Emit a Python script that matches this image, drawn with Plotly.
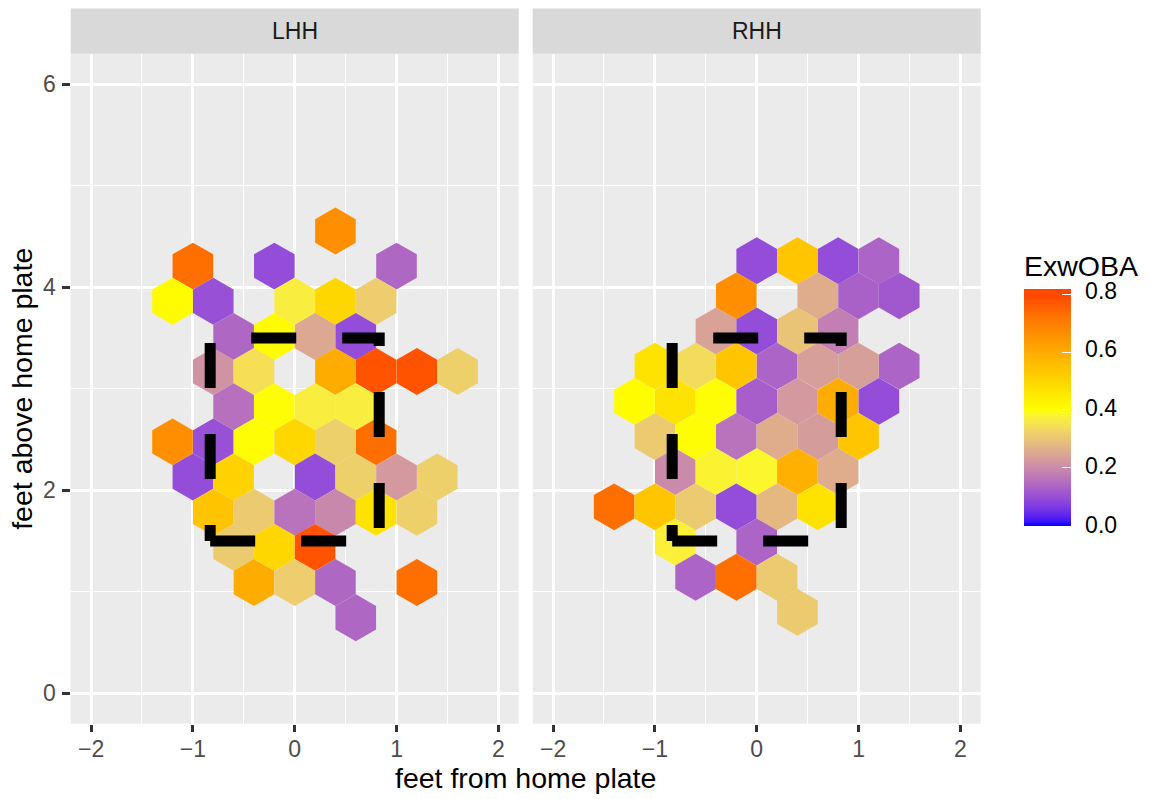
import plotly.graph_objects as go

# ---------------- data ----------------
# LHH panel: hex-bin centres and ExwOBA value
lhh_x = [0.4,
         -1.0, -0.2, 1.0,
         -1.2, -0.8, 0.0, 0.4, 0.8,
         -0.6, -0.2, 0.2, 0.6,
         -0.8, -0.4, 0.4, 0.8, 1.2, 1.6,
         -0.6, -0.2, 0.2, 0.6,
         -1.2, -0.8, -0.4, 0.0, 0.4, 0.8,
         -1.0, -0.6, 0.2, 0.6, 1.0, 1.4,
         -0.8, -0.4, 0.0, 0.4, 0.8, 1.2,
         -0.6, -0.2, 0.2,
         -0.4, 0.0, 0.4, 1.2,
         0.6]
lhh_y = [4.555,
         4.209, 4.209, 4.209,
         3.863, 3.863, 3.863, 3.863, 3.863,
         3.516, 3.516, 3.516, 3.516,
         3.170, 3.170, 3.170, 3.170, 3.170, 3.170,
         2.823, 2.823, 2.823, 2.823,
         2.477, 2.477, 2.477, 2.477, 2.477, 2.477,
         2.131, 2.131, 2.131, 2.131, 2.131, 2.131,
         1.784, 1.784, 1.784, 1.784, 1.784, 1.784,
         1.438, 1.438, 1.438,
         1.091, 1.091, 1.091, 1.091,
         0.745]
lhh_val = [0.665,
           0.73, 0.095, 0.14,
           0.41, 0.10, 0.37, 0.50, 0.315,
           0.14, 0.41, 0.25, 0.095,
           0.215, 0.345, 0.60, 0.78, 0.78, 0.32,
           0.155, 0.40, 0.37, 0.37,
           0.665, 0.10, 0.40, 0.50, 0.32, 0.73,
           0.095, 0.51, 0.095, 0.32, 0.225, 0.32,
           0.545, 0.31, 0.16, 0.195, 0.47, 0.32,
           0.31, 0.50, 0.78,
           0.60, 0.315, 0.14, 0.73,
           0.14]

# RHH panel
rhh_x = [0.0, 0.4, 0.8, 1.2,
         -0.2, 0.6, 1.0, 1.4,
         -0.4, 0.0, 0.4, 0.8,
         -1.0, -0.6, -0.2, 0.2, 0.6, 1.0, 1.4,
         -1.2, -0.8, -0.4, 0.0, 0.4, 0.8, 1.2,
         -1.0, -0.6, -0.2, 0.2, 0.6, 1.0,
         -0.8, -0.4, 0.0, 0.4, 0.8,
         -1.4, -1.0, -0.6, -0.2, 0.2, 0.6,
         -0.8, 0.0,
         -0.6, -0.2, 0.2,
         0.4]
rhh_y = [4.262, 4.262, 4.262, 4.262,
         3.916, 3.916, 3.916, 3.916,
         3.569, 3.569, 3.569, 3.569,
         3.223, 3.223, 3.223, 3.223, 3.223, 3.223, 3.223,
         2.876, 2.876, 2.876, 2.876, 2.876, 2.876, 2.876,
         2.530, 2.530, 2.530, 2.530, 2.530, 2.530,
         2.184, 2.184, 2.184, 2.184, 2.184,
         1.837, 1.837, 1.837, 1.837, 1.837, 1.837,
         1.491, 1.491,
         1.144, 1.144, 1.144,
         0.798]
rhh_val = [0.095, 0.54, 0.095, 0.135,
           0.665, 0.26, 0.13, 0.115,
           0.24, 0.095, 0.30, 0.18,
           0.47, 0.34, 0.54, 0.135, 0.235, 0.235, 0.135,
           0.405, 0.47, 0.40, 0.125, 0.225, 0.60, 0.095,
           0.31, 0.40, 0.16, 0.26, 0.23, 0.54,
           0.20, 0.38, 0.385, 0.59, 0.26,
           0.73, 0.54, 0.31, 0.095, 0.28, 0.47,
           0.375, 0.135,
           0.135, 0.73, 0.31,
           0.31]

# strike zone outline
zone_x = [-0.83, 0.83, 0.83, -0.83, -0.83]
zone_y = [1.5, 1.5, 3.5, 3.5, 1.5]

panel_labels = ["LHH", "RHH"]
x_ticks = [-2, -1, 0, 1, 2]
y_ticks = [0, 2, 4, 6]
cbar_ticks = [0.0, 0.2, 0.4, 0.6, 0.8]
cbar_labels = ["0.0", "0.2", "0.4", "0.6", "0.8"]
c_min, c_mid, c_max = -0.002, 0.4, 0.807   # colour-bar limits and mid (yellow) point


# ---------------- colour scale: Lab interpolation blue-yellow-orangered ----------------
def _hex_to_rgb(h):
    h = h.lstrip("#")
    return [int(h[i:i + 2], 16) / 255 for i in (0, 2, 4)]


def _to_lin(c):
    return c / 12.92 if c <= 0.04045 else ((c + 0.055) / 1.055) ** 2.4


def _from_lin(c):
    c = max(0.0, min(1.0, c))
    return 12.92 * c if c <= 0.0031308 else 1.055 * c ** (1 / 2.4) - 0.055


WHITE = (0.95047, 1.0, 1.08883)


def _rgb_to_lab(rgb):
    r, g, b = [_to_lin(c) for c in rgb]
    X = 0.4124 * r + 0.3576 * g + 0.1805 * b
    Y = 0.2126 * r + 0.7152 * g + 0.0722 * b
    Z = 0.0193 * r + 0.1192 * g + 0.9505 * b

    def f(t):
        return t ** (1 / 3) if t > 0.008856 else 7.787 * t + 16 / 116
    fx, fy, fz = f(X / WHITE[0]), f(Y / WHITE[1]), f(Z / WHITE[2])
    return (116 * fy - 16, 500 * (fx - fy), 200 * (fy - fz))


def _lab_to_rgb(lab):
    L, a, b = lab
    fy = (L + 16) / 116
    fx = fy + a / 500
    fz = fy - b / 200

    def finv(t):
        return t ** 3 if t ** 3 > 0.008856 else (t - 16 / 116) / 7.787
    X, Y, Z = WHITE[0] * finv(fx), WHITE[1] * finv(fy), WHITE[2] * finv(fz)
    r = 3.2406 * X - 1.5372 * Y - 0.4986 * Z
    g = -0.9689 * X + 1.8758 * Y + 0.0415 * Z
    bb = 0.0557 * X - 0.2040 * Y + 1.0570 * Z
    return "rgb(%d,%d,%d)" % tuple(round(_from_lin(c) * 255) for c in (r, g, bb))


anchors = [_rgb_to_lab(_hex_to_rgb(h)) for h in ("#0000FF", "#FFFF00", "#FF4500")]
colorscale = []
N = 48
for i in range(N + 1):
    t = i / N
    v = c_min + t * (c_max - c_min)
    if v <= c_mid:
        a, b, u = anchors[0], anchors[1], max(0.0, v) / c_mid
    else:
        a, b, u = anchors[1], anchors[2], min(1.0, (v - c_mid) / (0.8 - c_mid))
    lab = tuple(a[k] + (b[k] - a[k]) * u for k in range(3))
    colorscale.append([t, _lab_to_rgb(lab)])

# ---------------- figure ----------------
W, H = 1151, 799
FONT = "Liberation Sans, Arial, Helvetica, sans-serif"
HEX_SIZE = 46.9

fig = go.Figure()

for xs, ys, vs, xa, ya, cax in ((lhh_x, lhh_y, lhh_val, "x", "y", "coloraxis"),
                                (rhh_x, rhh_y, rhh_val, "x2", "y2", "coloraxis2")):
    fig.add_trace(go.Scatter(
        x=xs, y=ys, mode="markers", xaxis=xa, yaxis=ya,
        marker=dict(symbol="hexagon", size=HEX_SIZE, color=vs,
                    coloraxis=cax, line=dict(width=0)),
        hoverinfo="skip", showlegend=False))
    fig.add_trace(go.Scatter(
        x=zone_x, y=zone_y, mode="lines", xaxis=xa, yaxis=ya,
        line=dict(color="black", width=11, dash="45px,46px"),
        hoverinfo="skip", showlegend=False))

px_x = lambda p: p / W
px_y = lambda p: (H - p) / H

x_dom1 = [px_x(70.7), px_x(518.7)]
x_dom2 = [px_x(532.7), px_x(980.7)]
y_dom = [px_y(723.75), px_y(53.85)]

tickfont = dict(family=FONT, size=23, color="#4D4D4D")
common_x = dict(range=[-2.2, 2.2], tickvals=x_ticks, showgrid=True, gridcolor="white",
                gridwidth=2.8, zeroline=False, ticks="outside", ticklen=7.3, tickwidth=2.8,
                tickcolor="#333333", tickfont=tickfont, showline=False, fixedrange=True,
                minor=dict(dtick=0.5, tick0=0, showgrid=True, gridcolor="white", gridwidth=1.4),
                ticklabelstandoff=-3)
common_y = dict(range=[-0.3, 6.3], showgrid=True, gridcolor="white", gridwidth=2.8,
                zeroline=False, showline=False, fixedrange=True,
                minor=dict(dtick=1, tick0=0, showgrid=True, gridcolor="white", gridwidth=1.4))

bar_top, bar_bot, title_h = 292.7, 525.3, 41.0
cb_x = px_x(1024)

fig.update_layout(
    width=W, height=H, autosize=False,
    margin=dict(l=0, r=0, t=0, b=0, pad=0),
    paper_bgcolor="white", plot_bgcolor="#EBEBEB",
    font=dict(family=FONT, color="black"),
    xaxis=dict(domain=x_dom1, anchor="y", **common_x),
    xaxis2=dict(domain=x_dom2, anchor="y2", **common_x),
    yaxis=dict(domain=y_dom, anchor="x", tickvals=y_ticks, ticks="outside", ticklen=7.3,
               tickwidth=2.8, tickcolor="#333333", tickfont=tickfont, ticklabelstandoff=2,
               **common_y),
    yaxis2=dict(domain=y_dom, anchor="x2", matches="y", tickvals=y_ticks, ticks="",
                showticklabels=False, **common_y),
    # colour bar with title and labels
    coloraxis=dict(
        colorscale=colorscale, cmin=c_min, cmax=c_max,
        colorbar=dict(
            title=dict(text="ExwOBA", side="top", font=dict(family=FONT, size=28.5, color="black")),
            tickvals=cbar_ticks, ticktext=cbar_labels,
            ticks="outside", ticklen=10, tickwidth=1, tickcolor="rgba(0,0,0,0)",
            tickfont=dict(family=FONT, size=23, color="black"),
            thickness=47, thicknessmode="pixels",
            len=bar_bot - bar_top + title_h, lenmode="pixels",
            x=cb_x, xanchor="left", xpad=0,
            y=px_y((bar_top - title_h + bar_bot) / 2), yanchor="middle", ypad=0,
            outlinewidth=0, borderwidth=0)),
    # identical bar drawn on top, carrying the white inside ticks
    coloraxis2=dict(
        colorscale=colorscale, cmin=c_min, cmax=c_max,
        colorbar=dict(
            tickvals=cbar_ticks, showticklabels=False,
            ticks="inside", ticklen=9, tickwidth=1.4, tickcolor="white",
            thickness=47, thicknessmode="pixels",
            len=bar_bot - bar_top, lenmode="pixels",
            x=cb_x, xanchor="left", xpad=0,
            y=px_y((bar_top + bar_bot) / 2), yanchor="middle", ypad=0,
            outlinewidth=0, borderwidth=0)),
    showlegend=False,
)

# facet strips
shapes = []
annotations = []
strip_top, strip_bot = px_y(8.5), px_y(53.85)
for dom, lab in zip((x_dom1, x_dom2), panel_labels):
    shapes.append(dict(type="rect", xref="paper", yref="paper", x0=dom[0], x1=dom[1],
                       y0=strip_bot, y1=strip_top, fillcolor="#D9D9D9", line=dict(width=0),
                       layer="below"))
    annotations.append(dict(xref="paper", yref="paper", x=(dom[0] + dom[1]) / 2,
                            y=(strip_top + strip_bot) / 2, text=lab, showarrow=False,
                            xanchor="center", yanchor="middle",
                            font=dict(family=FONT, size=23, color="#1A1A1A")))

annotations.append(dict(xref="paper", yref="paper", x=(x_dom1[0] + x_dom2[1]) / 2, y=px_y(778),
                        text="feet from home plate", showarrow=False, xanchor="center",
                        yanchor="middle", font=dict(family=FONT, size=28.5, color="black")))
annotations.append(dict(xref="paper", yref="paper", x=px_x(22), y=(y_dom[0] + y_dom[1]) / 2,
                        text="feet above home plate", showarrow=False, textangle=-90,
                        xanchor="center", yanchor="middle",
                        font=dict(family=FONT, size=28.5, color="black")))
fig.update_layout(shapes=shapes, annotations=annotations)

fig.write_html("out.html", config={"displayModeBar": False},
               post_script="document.body.style.margin='0px';document.body.style.padding='0px';")
